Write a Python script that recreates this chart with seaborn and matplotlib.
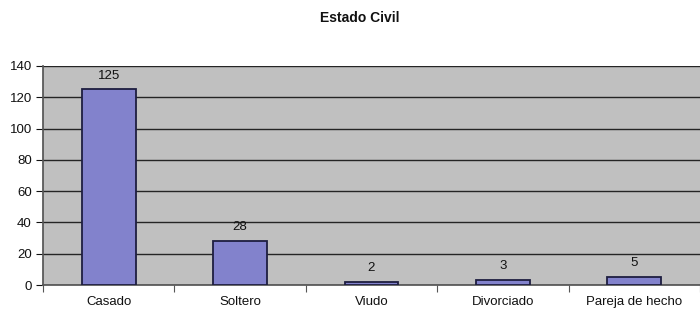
import matplotlib
matplotlib.use("Agg")
import matplotlib.pyplot as plt
import seaborn as sns
import pandas as pd
from matplotlib.ticker import FixedLocator

categories = ["Casado", "Soltero", "Viudo", "Divorciado", "Pareja de hecho"]
values = [125, 28, 2, 3, 5]
yticks = [0, 20, 40, 60, 80, 100, 120, 140]

sns.set_theme(style="white")
plt.rcParams['font.family'] = ['Liberation Sans', 'DejaVu Sans']

df = pd.DataFrame({"cat": categories, "val": values})
fig = plt.figure(figsize=(7, 3.12), dpi=100)
ax = fig.add_axes([0.0614, 0.0865, 0.9386, 0.702])
ax.set_facecolor("#c0c0c0")
sns.barplot(data=df, x="cat", y="val", color="#8282cc", width=0.41,
            edgecolor="#1e1e40", linewidth=1.3, saturation=1, ax=ax, zorder=3)
ax.set_ylim(0, 140)
ax.set_xlim(-0.5, len(categories) - 0.5)
ax.set_yticks(yticks)
ax.grid(axis="y", color="#252525", linewidth=1.0, zorder=1)
ax.set_axisbelow(True)
for i, v in enumerate(values):
    ax.annotate(str(v), (i, v), xytext=(0, 10), textcoords="offset points",
                ha="center", va="center", fontsize=9.5, color="#111111")
ax.set_xlabel("")
ax.set_ylabel("")
fig.text(360 / 700, 1 - 18 / 312, "Estado Civil", ha="center", va="center",
         fontsize=10, fontweight="bold", color="#111111")
ax.tick_params(axis="both", labelsize=9.5, colors="#111111")
ax.tick_params(axis="x", length=0, pad=8)
ax.tick_params(axis="y", length=5, width=0.8, direction="out", left=True, pad=3)
ax.xaxis.set_minor_locator(FixedLocator([i + 0.5 for i in range(-1, len(categories))]))
ax.tick_params(axis="x", which="minor", length=5, width=0.8, bottom=True, direction="out", color="#555555")
for s in ["top", "right"]:
    ax.spines[s].set_visible(False)
ax.spines["left"].set_color("#555555")
ax.spines["bottom"].set_color("#555555")
fig.savefig("out.png", dpi=100)
